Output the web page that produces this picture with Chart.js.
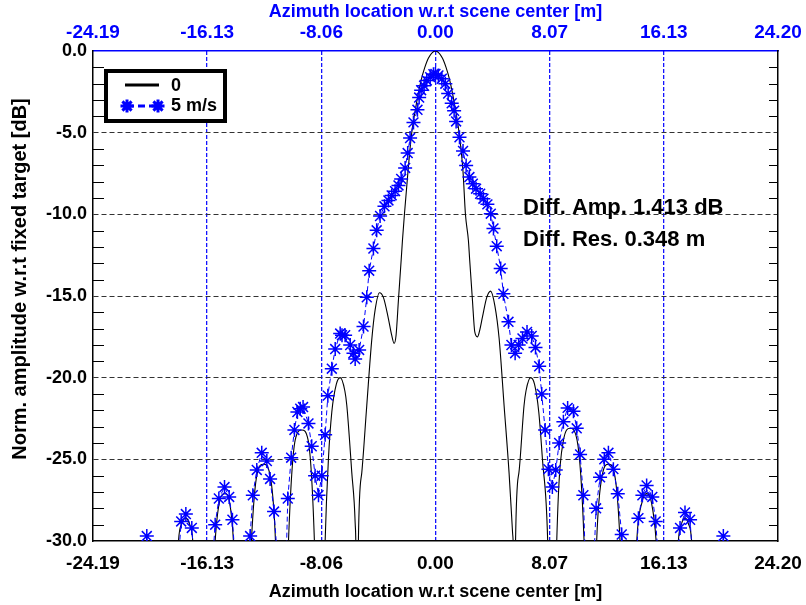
<!DOCTYPE html>
<html>
<head>
<meta charset="utf-8">
<script src="https://cdn.jsdelivr.net/npm/chart.js@4.4.1/dist/chart.umd.min.js"></script>
<style>
  html, body { margin: 0; padding: 0; background: #fff; }
  #wrap { width: 806px; height: 605px; }
</style>
</head>
<body>
<div id="wrap"><canvas id="psfChart" width="806" height="605"></canvas></div>
<script>
// --- axis ticks ---
const xTicks = [-24.19, -16.13, -8.06, 0.0, 8.07, 16.13, 24.20];
const xTickLabels = ['-24.19', '-16.13', '-8.06', '0.00', '8.07', '16.13', '24.20'];
const yTicks = [-30, -25, -20, -15, -10, -5, 0];
const yTickLabels = ['-30.0', '-25.0', '-20.0', '-15.0', '-10.0', '-5.0', '0.0'];

// --- series "0" (fixed target, black line) ---
const blackX = [-18.6, -18.15, -17.9, -17.64, -17.4, -17.14, -16.35, -15.56, -15.25, -14.86, -14.55, -14.27,
  -13.65, -13.0, -12.6, -12.15, -11.7, -11.3, -10.85, -10.38, -9.9, -9.44, -9.0, -8.55, -8.15,
  -7.79, -7.56, -7.32, -7.0, -6.73, -6.4, -6.26, -5.91, -5.67, -5.6, -5.55, -5.44, -5.2, -4.85,
  -4.5, -4.26, -3.95, -3.67, -3.32, -3.09, -2.92, -2.78, -2.61, -2.42, -2.33, -2.19, -1.95, -1.7,
  -1.39, -1.0, -0.75, -0.5, 0.0, 0.5, 0.75, 1.0, 1.39, 1.7, 1.95, 2.12, 2.33, 2.42, 2.61, 2.78,
  2.97, 3.1, 3.32, 3.62, 3.9, 4.2, 4.5, 4.85, 5.2, 5.45, 5.53, 5.58, 5.66, 5.9, 6.26, 6.4, 6.73,
  7.0, 7.3, 7.56, 7.93, 8.25, 8.57, 9.05, 9.51, 10.0, 10.5, 10.95, 11.39, 11.8, 12.22, 12.65,
  13.04, 13.6, 14.22, 14.6, 14.92, 15.25, 15.59, 16.4, 17.16, 17.4, 17.63, 17.85, 18.1, 18.6];
const blackY = [-40, -30, -28.9, -28.6, -28.9, -30, -45, -30, -27.6, -27.1, -27.6, -30,
  -45, -30, -25.9, -25.3, -25.9, -30, -45, -30, -23.8, -23.2, -23.8, -30, -45,
  -30, -25, -22.1, -20.4, -20.0, -20.8, -21.7, -25.8, -28.9, -32, -45, -29.9, -25.8, -21.7,
  -17.7, -15.85, -14.8, -15.1, -16.4, -17.4, -17.9, -17.4, -15.2, -12.8, -11.6, -10.0, -7.5, -5.2,
  -3.45, -1.75, -1.0, -0.44, 0.0, -0.44, -1.0, -1.75, -3.45, -5.2, -7.4, -10.0, -11.6, -12.8, -15.2, -17.2,
  -17.5, -17.2, -16.3, -15.1, -14.7, -15.6, -17.6, -21.7, -25.8, -29.5, -32, -45, -30, -25.8, -21.7, -20.8, -20.0,
  -20.4, -22.1, -25, -30, -45, -30, -23.8, -23.1, -23.8, -30, -45, -30, -25.9, -25.3, -25.9,
  -30, -45, -30, -27.6, -27.1, -27.6, -30, -45, -30, -28.9, -28.6, -28.9, -30, -40];

// --- series "5 m/s" (moving target, blue asterisks) ---
const blueX = [-20.7, -20.39, -20.1, -18.3, -17.96, -17.63, -17.21, -16.9, -15.9, -15.56, -15.3, -14.9,
  -14.57, -14.34, -14.0, -13.4, -13.09, -12.9, -12.62, -12.27, -11.91, -11.68, -11.4, -11.0, -10.6,
  -10.43, -10.19, -9.96, -9.75, -9.55, -9.35, -8.97, -8.74, -8.5, -8.26, -8.03, -7.79, -7.6, -7.32,
  -7.08, -6.73, -6.6, -6.38, -6.02, -5.79, -5.67, -5.39, -5.08, -4.85, -4.68, -4.38, -4.15, -3.91,
  -3.6, -3.32, -3.09, -2.85, -2.61, -2.42, -2.14, -1.96, -1.79, -1.55, -1.27, -1.15, -1.01, -0.8,
  -0.61, -0.37, -0.14, 0.0, 0.21, 0.45, 0.7, 0.9, 1.15, 1.32, 1.46, 1.7, 1.95, 2.17, 2.4, 2.64,
  2.87, 3.16, 3.39, 3.67, 3.91, 4.1, 4.33, 4.61, 4.8, 5.16, 5.37, 5.63, 5.88, 6.15, 6.47, 6.8,
  7.07, 7.33, 7.51, 7.75, 7.98, 8.26, 8.5, 8.74, 9.04, 9.34, 9.75, 9.98, 10.22, 10.45, 10.65,
  11.1, 11.35, 11.63, 11.93, 12.22, 12.57, 12.88, 13.16, 13.5, 14.1, 14.34, 14.62, 14.92, 15.32,
  15.56, 15.9, 16.9, 17.28, 17.63, 17.99, 18.3, 20.1, 20.34, 20.6];
const blueY = [-33, -29.7, -33, -33, -28.8, -28.35, -29.2, -33, -33, -29.0, -27.4, -26.7,
  -27.3, -28.7, -33, -33, -29.7, -27.2, -25.65, -24.6, -25.1, -26.2, -28.2, -33, -33,
  -27.4, -24.9, -23.2, -22.1, -21.9, -21.8, -22.8, -24.2, -26.0, -27.2, -26.0, -23.5, -21.1, -19.45,
  -18.25, -17.3, -17.4, -17.4, -18.0, -18.5, -18.86, -18.3, -16.87, -15.08, -13.45, -12.09, -10.98, -10.1,
  -9.51, -9.15, -8.84, -8.58, -8.23, -7.83, -7.16, -6.25, -5.33, -4.37, -3.6, -2.85, -2.4, -2.13,
  -1.8, -1.6, -1.42, -1.41, -1.5, -1.7, -2.0, -2.6, -3.2, -3.66, -4.31, -5.28, -6.12, -7.01, -7.72, -8.13,
  -8.43, -8.74, -9.04, -9.39, -9.96, -10.87, -11.95, -13.31, -14.86, -16.58, -18.0, -18.5, -18.0, -17.6, -17.2, -17.45,
  -18.15, -19.3, -21.0, -23.2, -25.6, -26.7, -25.65, -24.0, -22.7, -21.85, -22.05, -23.1, -24.7, -27.2, -33,
  -33, -28.0, -26.1, -25.0, -24.6, -25.6, -27.1, -29.6, -33, -33, -28.6, -27.2, -26.6, -27.3,
  -28.8, -33, -33, -29.2, -28.25, -28.7, -33, -33, -29.7, -33];

const legendLabels = ['0', '5 m/s'];
const noteLines = ['Diff. Amp. 1.413 dB', 'Diff. Res. 0.348 m'];
const yTitle = 'Norm. amplitude w.r.t fixed target [dB]';

const BLUE = '#0000ff';
const FONT = "'Liberation Sans', Arial, Helvetica, sans-serif";

Chart.defaults.font.family = FONT;
Chart.defaults.font.weight = 'bold';
Chart.defaults.color = '#000';

const toPoints = (xs, ys) => xs.map((x, i) => ({ x: x, y: ys[i] }));

// minor ticks (inside, both sides), legend box, y title and the two text notes
const extrasPlugin = {
  id: 'extras',
  afterDraw(chart) {
    const { ctx, chartArea: a, scales } = chart;
    ctx.save();
    ctx.strokeStyle = '#000';
    ctx.lineWidth = 1;
    ctx.beginPath();
    for (let v = -29; v < 0; v++) {
      if (v % 5 === 0) continue;
      const y = Math.round(scales.y.getPixelForValue(v)) + 0.5;
      ctx.moveTo(a.left, y); ctx.lineTo(a.left + 11, y);
      ctx.moveTo(a.right, y); ctx.lineTo(a.right - 9, y);
    }
    ctx.stroke();

    // legend
    ctx.lineWidth = 4;
    ctx.strokeStyle = '#000';
    ctx.fillStyle = '#fff';
    ctx.fillRect(106, 71, 119, 50);
    ctx.strokeRect(106, 71, 119, 50);
    ctx.lineWidth = 3;
    ctx.beginPath(); ctx.moveTo(125, 85); ctx.lineTo(159, 85); ctx.stroke();
    ctx.strokeStyle = BLUE;
    ctx.setLineDash([7, 4]);
    ctx.beginPath(); ctx.moveTo(127, 106); ctx.lineTo(158, 106); ctx.stroke();
    ctx.setLineDash([]);
    const star = { pointStyle: 'star', radius: 6.5, borderWidth: 3, borderColor: BLUE, backgroundColor: BLUE };
    Chart.helpers.drawPoint(ctx, star, 127, 106);
    Chart.helpers.drawPoint(ctx, star, 158, 106);
    ctx.fillStyle = '#000';
    ctx.font = 'bold 18px ' + FONT;
    ctx.textBaseline = 'middle';
    ctx.textAlign = 'left';
    ctx.fillText(legendLabels[0], 171, 86);
    ctx.fillText(legendLabels[1], 171, 106);

    // notes
    ctx.font = 'bold 22px ' + FONT;
    ctx.fillText(noteLines[0], 523, 208);
    ctx.fillText(noteLines[1], 523, 240);

    // y axis title
    ctx.save();
    ctx.translate(20, 279);
    ctx.rotate(-Math.PI / 2);
    ctx.textAlign = 'center';
    ctx.font = 'bold 20px ' + FONT;
    ctx.fillText(yTitle, 0, 0);
    ctx.restore();
    ctx.restore();
  }
};

const setTicks = (vals) => (scale) => { scale.ticks = vals.map(v => ({ value: v })); };
const fixHeight = (h) => (s) => { s.height = h; s.paddingLeft = 0; s.paddingRight = 0; };

new Chart(document.getElementById('psfChart'), {
  type: 'line',
  data: {
    datasets: [
      {
        label: legendLabels[1],
        data: toPoints(blueX, blueY),
        borderColor: BLUE,
        borderWidth: 1,
        borderDash: [5, 3],
        pointStyle: 'star',
        pointRadius: 7,
        pointBorderWidth: 1.5,
        pointBorderColor: BLUE,
        pointBackgroundColor: BLUE,
        tension: 0,
        xAxisID: 'x',
        yAxisID: 'y'
      },
      {
        label: legendLabels[0],
        data: toPoints(blackX, blackY),
        borderColor: '#000',
        borderWidth: 1.1,
        pointRadius: 0,
        cubicInterpolationMode: 'monotone',
        xAxisID: 'x',
        yAxisID: 'y'
      }
    ]
  },
  options: {
    responsive: false,
    animation: false,
    events: [],
    layout: { padding: { left: 0, right: 28, top: 0, bottom: 0 } },
    plugins: { legend: { display: false }, tooltip: { enabled: false } },
    scales: {
      x: {
        type: 'linear', position: 'bottom', min: -24.19, max: 24.20,
        afterBuildTicks: setTicks(xTicks),
        afterFit: fixHeight(64),
        ticks: { padding: 11, maxRotation: 0, autoSkip: false, color: '#000',
          font: { size: 19, weight: 'bold' },
          callback: (v, i) => xTickLabels[i] },
        grid: { drawTicks: false, lineWidth: 1.3,
          color: (c) => (c.index === 0 || c.index === xTicks.length - 1) ? 'rgba(0,0,0,0)' : 'rgb(20,20,255)' },
        border: { color: '#000', width: 1.5, dash: [4, 2] },
        title: { display: true, text: 'Azimuth location w.r.t scene center [m]', color: '#000',
          font: { size: 18, weight: 'bold' }, padding: { top: 0, bottom: 2 } }
      },
      x2: {
        type: 'linear', position: 'top', min: -24.19, max: 24.20,
        afterBuildTicks: setTicks(xTicks),
        afterFit: fixHeight(51),
        ticks: { padding: 7, maxRotation: 0, autoSkip: false, color: BLUE,
          font: { size: 19, weight: 'bold' },
          callback: (v, i) => xTickLabels[i] },
        grid: { display: false, drawTicks: false },
        border: { color: BLUE, width: 1.5 },
        title: { display: true, text: 'Azimuth location w.r.t scene center [m]', color: BLUE,
          font: { size: 18, weight: 'bold' }, padding: { top: 1, bottom: 0 } }
      },
      y: {
        type: 'linear', position: 'left', min: -30, max: 0,
        afterBuildTicks: setTicks(yTicks),
        afterFit: (s) => { s.width = 93; },
        ticks: { padding: 6, color: '#000', font: { size: 18, weight: 'bold' },
          callback: (v, i) => yTickLabels[i] },
        grid: { drawTicks: false, lineWidth: 1,
          color: (c) => (c.index === 0 || c.index === yTicks.length - 1) ? 'rgba(0,0,0,0)' : '#333' },
        border: { color: '#000', width: 1.5, dash: [5, 3] }
      },
      y2: {
        type: 'linear', position: 'right', min: -30, max: 0,
        afterFit: (s) => { s.width = 0; },
        ticks: { display: false },
        grid: { display: false, drawTicks: false },
        border: { color: '#000', width: 1.5 }
      }
    }
  },
  plugins: [extrasPlugin]
});
</script>
</body>
</html>
